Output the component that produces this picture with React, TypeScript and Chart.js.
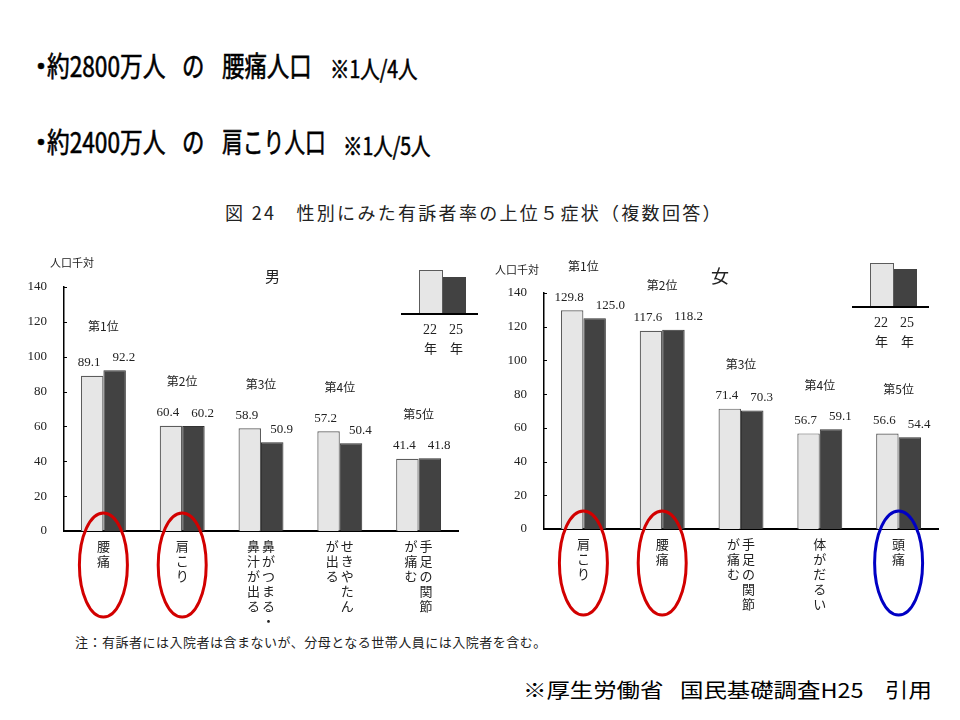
import React, { useEffect, useRef } from "react";
import { Chart, registerables } from "chart.js";

Chart.register(...registerables);

// ---- data ----
const seriesNames = ["22年", "25年"];
const rankLabels = ["第1位", "第2位", "第3位", "第4位", "第5位"];
const yTickMax = 140;
const yTickStep = 20;

// vertical category labels: columns from right to left
const maleCategories = [["腰痛"], ["肩こり"], ["鼻がつまる・", "鼻汁が出る"], ["せきやたん", "が出る"], ["手足の関節", "が痛む"]];
const male22 = [89.1, 60.4, 58.9, 57.2, 41.4];
const male25 = [92.2, 60.2, 50.9, 50.4, 41.8];
const maleHighlights = ["red", "red", null, null, null];

const femaleCategories = [["肩こり"], ["腰痛"], ["手足の関節", "が痛む"], ["体がだるい"], ["頭痛"]];
const female22 = [129.8, 117.6, 71.4, 56.7, 56.6];
const female25 = [125.0, 118.2, 70.3, 59.1, 54.4];
const femaleHighlights = ["red", "red", null, null, "blue"];

const CJK = "'Noto Sans CJK JP', 'Noto Sans', sans-serif";
const SERIF = "'Liberation Serif', 'DejaVu Serif', serif";
const HL_COLORS: Record<string, string> = { red: "#d20000", blue: "#0000c4" };

function makeOverlay(cats: string[][], highlights: (string | null)[]) {
  return {
    id: "overlay",
    afterDatasetsDraw(chart: any) {
      const ctx = chart.ctx as CanvasRenderingContext2D;
      const xs = chart.scales.x;
      const ys = chart.scales.y;
      ctx.save();
      // small inward tick marks on the y axis
      ctx.strokeStyle = "#000";
      ctx.lineWidth = 1;
      ys.ticks.forEach((t: any) => {
        const y = Math.round(ys.getPixelForValue(t.value)) + 0.5;
        ctx.beginPath();
        ctx.moveTo(chart.chartArea.left, y);
        ctx.lineTo(chart.chartArea.left + 3, y);
        ctx.stroke();
      });
      ctx.fillStyle = "#222";
      ctx.textAlign = "center";
      ctx.textBaseline = "middle";
      // value labels
      ctx.font = `13px ${SERIF}`;
      const m0 = chart.getDatasetMeta(0);
      const m1 = chart.getDatasetMeta(1);
      const d0 = chart.data.datasets[0].data;
      const d1 = chart.data.datasets[1].data;
      m0.data.forEach((b0: any, i: number) => {
        const b1 = m1.data[i];
        const t0 = Number(d0[i]).toFixed(1);
        const t1 = Number(d1[i]).toFixed(1);
        const w0 = ctx.measureText(t0).width;
        const w1 = ctx.measureText(t1).width;
        const x0 = b0.x - 3;
        let x1 = b1.x + 4;
        const need = (w0 + w1) / 2 + 12;
        if (x1 - x0 < need) x1 = x0 + need;
        ctx.fillText(t0, x0, b0.y - 13);
        ctx.fillText(t1, x1, b1.y - 13);
      });
      // rank labels
      ctx.font = `12px ${CJK}`;
      rankLabels.forEach((r, i) => {
        const maxV = Math.max(...chart.data.datasets.map((d: any) => d.data[i]));
        ctx.fillText(r, xs.getPixelForValue(i), ys.getPixelForValue(maxV) - 44);
      });
      // vertical category labels
      ctx.font = `13px ${CJK}`;
      cats.forEach((cols, i) => {
        const cx = xs.getPixelForValue(i);
        const n = cols.length;
        cols.forEach((col, c) => {
          const x = cx + ((n - 1) / 2 - c) * 15;
          Array.from(col).forEach((ch, k) => {
            ctx.fillText(ch, x, chart.chartArea.bottom + 15 + k * 15);
          });
        });
      });
      ctx.restore();
    },
    afterDraw(chart: any) {
      const ctx = chart.ctx as CanvasRenderingContext2D;
      const xs = chart.scales.x;
      ctx.save();
      ctx.lineWidth = 3;
      highlights.forEach((h, i) => {
        if (!h) return;
        ctx.strokeStyle = HL_COLORS[h];
        ctx.beginPath();
        ctx.ellipse(xs.getPixelForValue(i), chart.chartArea.bottom + 34, 24, 52, 0, 0, Math.PI * 2);
        ctx.stroke();
      });
      ctx.restore();
    },
  };
}

type ChartProps = {
  cats: string[][];
  s1: number[];
  s2: number[];
  highlights: (string | null)[];
  left: number;
  padTop: number;
  padBottom: number;
  padRight: number;
};

function BarChart({ cats, s1, s2, highlights, left, padTop, padBottom, padRight }: ChartProps) {
  const ref = useRef<HTMLCanvasElement>(null);
  useEffect(() => {
    const chart = new Chart(ref.current as HTMLCanvasElement, {
      type: "bar",
      data: {
        labels: cats.map((c) => c.join("")),
        datasets: [
          {
            label: seriesNames[0],
            data: s1,
            backgroundColor: "#e6e6e6",
            borderColor: "#5c5c5c",
            borderWidth: 1.2,
          },
          {
            label: seriesNames[1],
            data: s2,
            backgroundColor: "#424242",
            borderColor: "#333333",
            borderWidth: 1,
          },
        ],
      },
      options: {
        responsive: false,
        animation: false,
        layout: { padding: { top: padTop, bottom: padBottom, right: padRight, left: 0 } },
        datasets: { bar: { categoryPercentage: 0.57, barPercentage: 1 } } as any,
        plugins: { legend: { display: false }, tooltip: { enabled: false } },
        scales: {
          x: {
            grid: { display: false, drawTicks: false },
            ticks: { display: false },
            border: { display: true, color: "#000", width: 2 },
          },
          y: {
            min: 0,
            max: yTickMax,
            ticks: {
              stepSize: yTickStep,
              padding: 17,
              color: "#222",
              font: { family: SERIF, size: 13 },
            },
            grid: { display: false, drawTicks: false },
            border: { color: "#000", width: 1.5 },
            afterFit: (s: any) => {
              s.width = 64;
            },
          },
        },
      },
      plugins: [makeOverlay(cats, highlights) as any],
    });
    return () => chart.destroy();
  }, []);
  return (
    <canvas
      ref={ref}
      width={480}
      height={390}
      style={{ position: "absolute", left, top: 240, width: 480, height: 390 }}
    />
  );
}

function T({ x, y, size, sx = 1, children, style }: any) {
  return (
    <div
      style={{
        position: "absolute",
        left: x,
        top: y,
        fontSize: size,
        lineHeight: `${size}px`,
        whiteSpace: "nowrap",
        transform: `scaleX(${sx})`,
        transformOrigin: "left top",
        ...style,
      }}
    >
      {children}
    </div>
  );
}

function Legend({ x, baseY, lightTop, darkTop }: any) {
  return (
    <>
      <div style={{ position: "absolute", left: x + 18, top: lightTop, width: 24, height: baseY - lightTop, background: "#e6e6e6", border: "1px solid #5c5c5c", boxSizing: "border-box" }} />
      <div style={{ position: "absolute", left: x + 42, top: darkTop, width: 23, height: baseY - darkTop, background: "#424242" }} />
      <div style={{ position: "absolute", left: x, top: baseY - 1, width: 77, height: 2, background: "#000" }} />
      <T x={x + 22} y={baseY + 9} size={14} style={{ fontFamily: SERIF, color: "#222" }}>22</T>
      <T x={x + 48} y={baseY + 9} size={14} style={{ fontFamily: SERIF, color: "#222" }}>25</T>
      <T x={x + 23} y={baseY + 27} size={13} style={{ fontFamily: CJK, color: "#222" }}>年</T>
      <T x={x + 49} y={baseY + 27} size={13} style={{ fontFamily: CJK, color: "#222" }}>年</T>
    </>
  );
}

const HEAD = { WebkitTextStroke: "0.6px #000" };

export default function App() {
  return (
    <div
      style={{
        position: "fixed",
        left: 0,
        top: 0,
        width: 960,
        height: 720,
        background: "#fff",
        overflow: "hidden",
        fontFamily: CJK,
        color: "#000",
      }}
    >
      {/* headline lines */}
      <T x={27} y={51} size={28} style={HEAD}>・</T>
      <T x={47} y={51} size={28} sx={0.81} style={HEAD}>約2800万人</T>
      <T x={182} y={51} size={28} sx={0.8} style={HEAD}>の</T>
      <T x={222} y={51} size={28} sx={0.8} style={HEAD}>腰痛人口</T>
      <T x={330} y={56} size={24} sx={0.81} style={HEAD}>※1人/4人</T>

      <T x={27} y={127} size={28} style={HEAD}>・</T>
      <T x={47} y={127} size={28} sx={0.81} style={HEAD}>約2400万人</T>
      <T x={182} y={127} size={28} sx={0.8} style={HEAD}>の</T>
      <T x={222} y={127} size={28} sx={0.74} style={HEAD}>肩こり人口</T>
      <T x={343} y={133} size={24} sx={0.81} style={HEAD}>※1人/5人</T>

      {/* figure title */}
      <T x={225} y={203} size={18} style={{ color: "#222", letterSpacing: 2.3 }}>
        図 24　性別にみた有訴者率の上位５症状（複数回答）
      </T>

      {/* charts */}
      <BarChart cats={maleCategories} s1={male22} s2={male25} highlights={maleHighlights} left={0} padTop={47} padBottom={99} padRight={22} />
      <BarChart cats={femaleCategories} s1={female22} s2={female25} highlights={femaleHighlights} left={480} padTop={53} padBottom={101} padRight={22} />

      {/* axis titles and panel titles */}
      <T x={50} y={257} size={11} style={{ color: "#222" }}>人口千対</T>
      <T x={495} y={264} size={11} style={{ color: "#222" }}>人口千対</T>
      <T x={265} y={268} size={15} style={{ color: "#222" }}>男</T>
      <T x={711} y={266} size={18} style={{ color: "#222" }}>女</T>

      {/* legends */}
      <Legend x={401} baseY={314} lightTop={270} darkTop={277} />
      <Legend x={852} baseY={307} lightTop={263} darkTop={269} />

      {/* footnote */}
      <T x={75} y={635} size={13} style={{ color: "#222", letterSpacing: 0.5 }}>
        注：有訴者には入院者は含まないが、分母となる世帯人員には入院者を含む。
      </T>

      {/* source */}
      <T x={523} y={680} size={20} sx={1.17}>※厚生労働省</T>
      <T x={680} y={680} size={20} sx={1.17}>国民基礎調査H25</T>
      <T x={885} y={680} size={20} sx={1.17}>引用</T>
    </div>
  );
}
